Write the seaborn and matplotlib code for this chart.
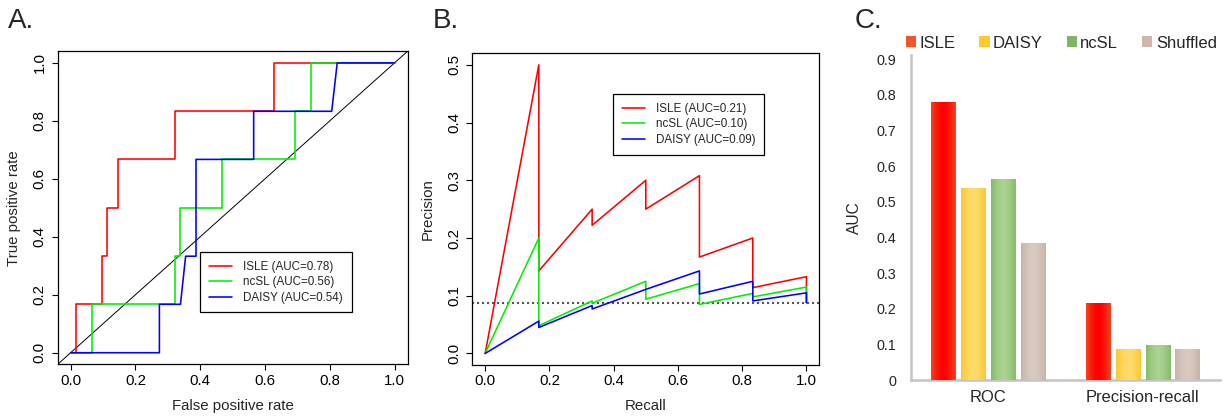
import numpy as np
import pandas as pd
import matplotlib
matplotlib.use("Agg")
import matplotlib.pyplot as plt
import seaborn as sns
from matplotlib.patches import Patch
from matplotlib.colors import to_rgb

# ---------------- Panel A: ROC curves (vertices) ----------------
roc_isle_fpr = [0, 0.016, 0.016, 0.097, 0.097, 0.113, 0.113, 0.145, 0.145, 0.323, 0.323, 0.629, 0.629, 1.0]
roc_isle_tpr = [0, 0, 0.167, 0.167, 0.333, 0.333, 0.5, 0.5, 0.667, 0.667, 0.833, 0.833, 1.0, 1.0]
roc_ncsl_fpr = [0, 0.065, 0.065, 0.323, 0.323, 0.339, 0.339, 0.468, 0.468, 0.694, 0.694, 0.742, 0.742, 1.0]
roc_ncsl_tpr = [0, 0, 0.167, 0.167, 0.333, 0.333, 0.5, 0.5, 0.667, 0.667, 0.833, 0.833, 1.0, 1.0]
roc_daisy_fpr = [0, 0.274, 0.274, 0.339, 0.355, 0.387, 0.387, 0.565, 0.565, 0.806, 0.823, 1.0]
roc_daisy_tpr = [0, 0, 0.167, 0.167, 0.333, 0.333, 0.667, 0.667, 0.833, 0.833, 1.0, 1.0]
roc_labels = ["ISLE (AUC=0.78)", "ncSL (AUC=0.56)", "DAISY (AUC=0.54)"]

# ---------------- Panel B: precision-recall curves ----------------
pr_isle_rec = [0, 0.167, 0.167, 0.333, 0.333, 0.5, 0.5, 0.667, 0.667, 0.833, 0.833, 1.0, 1.0]
pr_isle_prec = [0, 0.5, 0.143, 0.25, 0.222, 0.3, 0.25, 0.308, 0.167, 0.2, 0.114, 0.133, 0.088]
pr_ncsl_rec = [0, 0.167, 0.167, 0.333, 0.333, 0.5, 0.5, 0.667, 0.667, 0.833, 0.833, 1.0, 1.0]
pr_ncsl_prec = [0, 0.2, 0.048, 0.091, 0.087, 0.125, 0.094, 0.121, 0.085, 0.104, 0.098, 0.115, 0.088]
pr_daisy_rec = [0, 0.167, 0.167, 0.333, 0.333, 0.5, 0.667, 0.667, 0.833, 0.833, 1.0, 1.0]
pr_daisy_prec = [0, 0.056, 0.045, 0.083, 0.077, 0.111, 0.143, 0.103, 0.125, 0.091, 0.105, 0.088]
pr_baseline = 0.088
pr_labels = ["ISLE (AUC=0.21)", "ncSL (AUC=0.10)", "DAISY (AUC=0.09)"]

# ---------------- Panel C: AUC bars ----------------
metrics = ["ROC", "Precision-recall"]
methods = ["ISLE", "DAISY", "ncSL", "Shuffled"]
auc_roc = [0.78, 0.54, 0.565, 0.385]
auc_pr = [0.215, 0.087, 0.097, 0.088]
c_ticks = [0, 0.1, 0.2, 0.3, 0.4, 0.5, 0.6, 0.7, 0.8, 0.9]
c_ticklabels = ["0", "0.1", "0.2", "0.3", "0.4", "0.5", "0.6", "0.7", "0.8", "0.9"]

line_colors = ["#ff0000", "#00ee00", "#0000ff"]
bar_center = {"ISLE": "#ff0000", "DAISY": "#fedc6c", "ncSL": "#abd393", "Shuffled": "#d9cac2"}
bar_edge = {"ISLE": "#f2461f", "DAISY": "#fcc733", "ncSL": "#86bb66", "Shuffled": "#c8b4a9"}
swatch = {"ISLE": "#f05526", "DAISY": "#ffc92b", "ncSL": "#7fb55f", "Shuffled": "#cdb8ab"}

sns.set_style("ticks")
plt.rcParams['font.family'] = ['Liberation Sans', 'DejaVu Sans']
plt.rcParams['axes.linewidth'] = 0.9

W, H = 1228, 417
fig = plt.figure(figsize=(W / 100, H / 100), dpi=100)
axA = fig.add_axes([57.7 / W, 1 - 364.3 / H, 349.8 / W, 313 / H])
axB = fig.add_axes([472.3 / W, 1 - 365 / H, 347 / W, 311.7 / H])
axC = fig.add_axes([910.7 / W, 1 - 380 / H, 309.3 / W, 325 / H])

FS_TICK = 10.8
FS_LEG = 8.4


def r_style(ax):
    for s in ax.spines.values():
        s.set_visible(True)
        s.set_color("black")
        s.set_linewidth(0.9)
    ax.tick_params(direction="out", length=4.5, width=0.8, labelsize=FS_TICK,
                   colors="black")
    ax.tick_params(axis="x", pad=2.2)
    ax.tick_params(axis="y", pad=3.6)
    for lab in ax.get_yticklabels():
        lab.set_rotation(90)
        lab.set_va("center")


# ---- Panel A
for fx, ty, col, lab in zip([roc_isle_fpr, roc_ncsl_fpr, roc_daisy_fpr],
                            [roc_isle_tpr, roc_ncsl_tpr, roc_daisy_tpr],
                            line_colors, roc_labels):
    sns.lineplot(x=fx, y=ty, sort=False, estimator=None, color=col,
                 linewidth=1.15, ax=axA, label=lab)
axA.axline((0, 0), slope=1, color="black", linewidth=0.7, zorder=1)
axA.set_xlim(-0.04, 1.04)
axA.set_ylim(-0.04, 1.04)
axA.set_xticks([0, 0.2, 0.4, 0.6, 0.8, 1.0])
axA.set_xticklabels(["0.0", "0.2", "0.4", "0.6", "0.8", "1.0"])
axA.set_yticks([0, 0.2, 0.4, 0.6, 0.8, 1.0])
axA.set_yticklabels(["0.0", "0.2", "0.4", "0.6", "0.8", "1.0"])
axA.set_xlabel("False positive rate", fontsize=FS_TICK, va="center")
axA.set_ylabel("True positive rate", fontsize=FS_TICK, va="center")
axA.xaxis.set_label_coords(0.5, -0.133)
axA.yaxis.set_label_coords(-0.125, 0.5)
r_style(axA)
legA = axA.legend(loc="upper left", bbox_to_anchor=(0.407, 0.359), fontsize=FS_LEG,
                  frameon=True, fancybox=False, edgecolor="black", framealpha=1,
                  borderpad=0.75, handlelength=2.0, handletextpad=0.95,
                  labelspacing=0.3, borderaxespad=0)
legA.get_frame().set_linewidth(0.9)

# ---- Panel B
for rx, py, col, lab in zip([pr_isle_rec, pr_ncsl_rec, pr_daisy_rec],
                            [pr_isle_prec, pr_ncsl_prec, pr_daisy_prec],
                            line_colors, pr_labels):
    sns.lineplot(x=rx, y=py, sort=False, estimator=None, color=col,
                 linewidth=1.15, ax=axB, label=lab)
axB.axhline(pr_baseline, color="#555555", linewidth=1.5, linestyle=(0, (1, 1.4)), zorder=1)
axB.set_xlim(-0.04, 1.04)
axB.set_ylim(-0.02, 0.52)
axB.set_xticks([0, 0.2, 0.4, 0.6, 0.8, 1.0])
axB.set_xticklabels(["0.0", "0.2", "0.4", "0.6", "0.8", "1.0"])
axB.set_yticks([0, 0.1, 0.2, 0.3, 0.4, 0.5])
axB.set_yticklabels(["0.0", "0.1", "0.2", "0.3", "0.4", "0.5"])
axB.set_xlabel("Recall", fontsize=FS_TICK, va="center")
axB.set_ylabel("Precision", fontsize=FS_TICK, va="center")
axB.xaxis.set_label_coords(0.5, -0.1315)
axB.yaxis.set_label_coords(-0.127, 0.5)
r_style(axB)
legB = axB.legend(loc="upper left", bbox_to_anchor=(0.405, 0.869), fontsize=FS_LEG,
                  frameon=True, fancybox=False, edgecolor="black", framealpha=1,
                  borderpad=0.75, handlelength=2.0, handletextpad=0.95,
                  labelspacing=0.3, borderaxespad=0)
legB.get_frame().set_linewidth(0.9)

# ---- Panel C
dfC = pd.DataFrame({
    "metric": [m for m in metrics for _ in methods],
    "method": methods * len(metrics),
    "auc": auc_roc + auc_pr,
})
sns.barplot(data=dfC, x="metric", y="auc", hue="method", order=metrics,
            hue_order=methods, palette=bar_center, width=0.77, gap=0.19,
            legend=False, ax=axC, edgecolor="#ffffff", linewidth=0.6, zorder=3)

# horizontal glow gradient inside each bar
for cont, meth in zip(axC.containers, methods):
    c_in = np.array(to_rgb(bar_center[meth]))
    c_out = np.array(to_rgb(bar_edge[meth]))
    t = np.abs(np.linspace(-1, 1, 64)) ** 1.6
    grad = (c_in[None, :] * (1 - t[:, None]) + c_out[None, :] * t[:, None])[None, :, :]
    for bar in cont.patches:
        x0, y0 = bar.get_x(), bar.get_y()
        w, h = bar.get_width(), bar.get_height()
        im = axC.imshow(grad, extent=[x0, x0 + w, y0, y0 + h], aspect="auto",
                        zorder=3.5, interpolation="bilinear")
        im.set_clip_path(bar)

axC.set_xlim(-0.5, 1.5)
axC.set_ylim(0, 0.912)
axC.set_yticks(c_ticks)
axC.set_yticklabels(c_ticklabels)
axC.tick_params(axis="y", length=0, pad=10.6, labelsize=10.4)
axC.tick_params(axis="x", length=0, pad=7.5, labelsize=11.9)
axC.set_xlabel("")
axC.set_ylabel("AUC", fontsize=11.2, va="center")
axC.yaxis.set_label_coords(-0.183, 0.5)
for side in ["top", "right"]:
    axC.spines[side].set_visible(False)
for side in ["left", "bottom"]:
    axC.spines[side].set_color("#c4c4c4")
    axC.spines[side].set_linewidth(1.8)

handles = [Patch(facecolor=swatch[m], edgecolor="none", label=m) for m in methods]
fig.legend(handles=handles, loc="center left", bbox_to_anchor=(905.7 / W, 1 - 43 / H),
           ncol=4, frameon=False, fontsize=12, handlelength=0.63, handleheight=0.63,
           handletextpad=0.2, columnspacing=1.42, borderpad=0, borderaxespad=0)

# panel letters
for x, lab in [(8.3, "A."), (432.7, "B."), (855, "C.")]:
    fig.text(x / W, 1 - 28.3 / H, lab, fontsize=20, ha="left", va="baseline")

fig.savefig("out.png", dpi=100)
